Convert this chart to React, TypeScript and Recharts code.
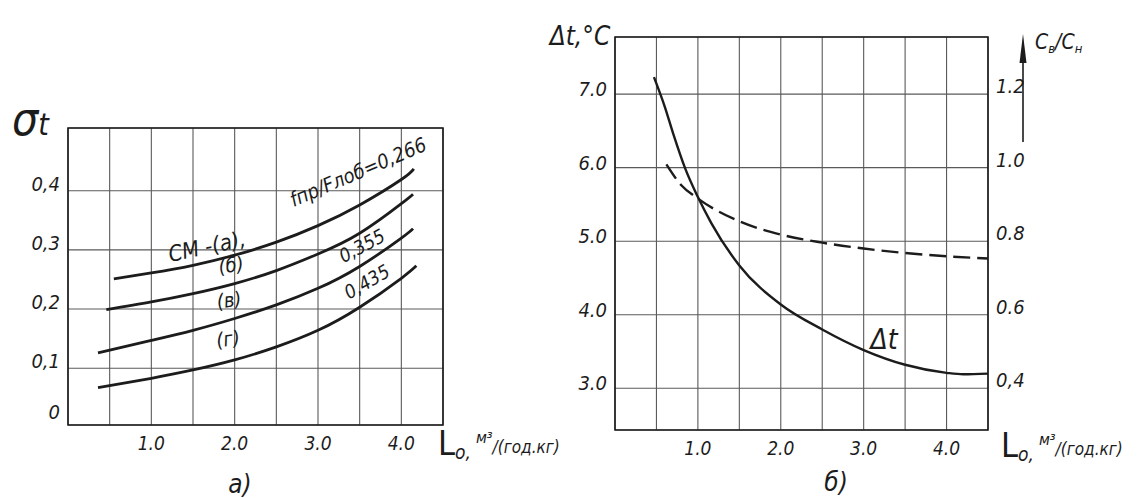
import React from "react";
import { LineChart, Line, XAxis, YAxis, CartesianGrid, ReferenceArea } from "recharts";

const FONT = "'Liberation Sans Narrow', 'DejaVu Sans Condensed', 'Liberation Sans', sans-serif";
const INK = "#1c1c1c";
const GRID = "#5a5a5a";

// ── а) σt от L0 при разных fпр/Fлоб ──
const LO_TICKS = [0, 0.5, 1, 1.5, 2, 2.5, 3, 3.5, 4, 4.5];
const SIGMA_TICKS = [0.004, 0.1, 0.2, 0.3, 0.4];
const SIGMA_DOMAIN = [0.004, 0.506];

const curveA = [
  { x: 0.55, y: 0.251 }, { x: 1.0, y: 0.261 }, { x: 1.5, y: 0.274 }, { x: 2.0, y: 0.291 },
  { x: 2.5, y: 0.313 }, { x: 3.0, y: 0.341 }, { x: 3.5, y: 0.376 }, { x: 4.0, y: 0.419 },
  { x: 4.15, y: 0.437 },
];
const curveB = [
  { x: 0.46, y: 0.199 }, { x: 1.0, y: 0.212 }, { x: 1.5, y: 0.226 }, { x: 2.0, y: 0.243 },
  { x: 2.5, y: 0.265 }, { x: 3.0, y: 0.293 }, { x: 3.5, y: 0.328 }, { x: 4.0, y: 0.378 },
  { x: 4.14, y: 0.394 },
];
const curveV = [
  { x: 0.36, y: 0.126 }, { x: 1.0, y: 0.147 }, { x: 1.5, y: 0.164 }, { x: 2.0, y: 0.184 },
  { x: 2.5, y: 0.207 }, { x: 3.0, y: 0.235 }, { x: 3.5, y: 0.272 }, { x: 4.0, y: 0.32 },
  { x: 4.14, y: 0.336 },
];
const curveG = [
  { x: 0.36, y: 0.067 }, { x: 1.0, y: 0.083 }, { x: 1.5, y: 0.097 }, { x: 2.0, y: 0.114 },
  { x: 2.5, y: 0.136 }, { x: 3.0, y: 0.164 }, { x: 3.5, y: 0.203 }, { x: 4.0, y: 0.252 },
  { x: 4.18, y: 0.273 },
];
const LEFT_CURVES = [curveA, curveB, curveV, curveG];

// ── б) Δt и Cв/Cн от L0 ──
const DT_TICKS = [3, 4, 5, 6, 7];
const DT_DOMAIN = [2.433, 7.776];
const RATIO_TICKS = [0.4, 0.6, 0.8, 1.0, 1.2];
const RATIO_DOMAIN = [0.2866, 1.3552];

const deltaT = [
  { x: 0.47, y: 7.23 }, { x: 0.6, y: 6.83 }, { x: 0.7, y: 6.47 }, { x: 0.85, y: 5.98 },
  { x: 1.0, y: 5.6 }, { x: 1.16, y: 5.25 }, { x: 1.5, y: 4.67 }, { x: 2.0, y: 4.14 },
  { x: 2.5, y: 3.8 }, { x: 3.0, y: 3.52 }, { x: 3.5, y: 3.32 }, { x: 4.0, y: 3.21 },
  { x: 4.2, y: 3.19 }, { x: 4.5, y: 3.2 },
];
const ratio = [
  { x: 0.62, y: 1.009 }, { x: 0.8, y: 0.952 }, { x: 1.0, y: 0.916 }, { x: 1.5, y: 0.854 },
  { x: 2.0, y: 0.818 }, { x: 2.5, y: 0.796 }, { x: 3.0, y: 0.78 }, { x: 3.5, y: 0.768 },
  { x: 4.0, y: 0.759 }, { x: 4.5, y: 0.753 },
];

const tickStyle = { fontFamily: FONT, fontStyle: "italic" as const, fontSize: 20, fill: INK };

function LoTick(p: any) {
  const v = p.payload.value;
  if (v === 0 || v % 1 !== 0) return <g />;
  return (
    <text x={p.x} y={p.y} dy={17} textAnchor="middle" {...tickStyle} fontSize={19}>
      {v.toFixed(1)}
    </text>
  );
}

function SigmaTick(p: any) {
  const v = p.payload.value;
  const label = v < 0.05 ? "0" : "0," + Math.round(v * 10);
  return (
    <text x={p.x} y={p.y} dy={v < 0.05 ? -6 : 0} textAnchor="end" {...tickStyle}>
      {label}
    </text>
  );
}

function DtTick(p: any) {
  return (
    <text x={p.x} y={p.y} dy={2} textAnchor="end" {...tickStyle}>
      {p.payload.value.toFixed(1)}
    </text>
  );
}

function RatioTick(p: any) {
  const v = p.payload.value;
  return (
    <text x={p.x} y={p.y} dy={-1} textAnchor="start" {...tickStyle}>
      {v === 0.4 ? "0,4" : v.toFixed(1)}
    </text>
  );
}

function Note({ x, y, rot = 0, size = 20, children }: any) {
  return (
    <div
      style={{
        position: "absolute",
        left: x,
        top: y,
        transform: `translate(-50%, -50%) rotate(${rot}deg)`,
        fontFamily: FONT,
        fontStyle: "italic",
        fontSize: size,
        lineHeight: 1,
        whiteSpace: "nowrap",
        color: INK,
      }}
    >
      {children}
    </div>
  );
}

function LoLabel({ x, y }: { x: number; y: number }) {
  return (
    <div style={{ position: "absolute", left: x, top: y, fontFamily: FONT, color: INK, whiteSpace: "nowrap", lineHeight: 1 }}>
      <span style={{ fontSize: 34 }}>L</span>
      <span style={{ fontSize: 19, fontStyle: "italic", position: "relative", top: 4 }}>о,</span>
      <span style={{ fontSize: 16, fontStyle: "italic", position: "relative", top: -12, marginLeft: 5 }}>м³</span>
      <span style={{ fontSize: 17, fontStyle: "italic", position: "relative", top: -2 }}>/(год.кг)</span>
    </div>
  );
}

export default function App() {
  return (
    <div style={{ position: "absolute", left: 0, top: 0, width: 1139, height: 498, background: "#fff", overflow: "hidden" }}>
      {/* а) */}
      <div style={{ position: "absolute", left: 0, top: 0 }}>
        <LineChart width={460} height={498} margin={{ top: 128, right: 17, bottom: 43, left: 8 }}>
          <CartesianGrid stroke={GRID} strokeWidth={1.1} />
          <XAxis type="number" dataKey="x" domain={[0, 4.5]} ticks={LO_TICKS} interval={0}
            height={30} axisLine={false} tickLine={false} tick={LoTick} />
          <YAxis type="number" domain={SIGMA_DOMAIN} ticks={SIGMA_TICKS} interval={0}
            width={60} axisLine={false} tickLine={false} tick={SigmaTick} />
          <ReferenceArea x1={0} x2={4.5} y1={SIGMA_DOMAIN[0]} y2={SIGMA_DOMAIN[1]}
            fill="none" stroke={INK} strokeWidth={1.6} />
          {LEFT_CURVES.map((c, i) => (
            <Line key={i} data={c} dataKey="y" type="natural" stroke={INK} strokeWidth={2.8}
              dot={false} isAnimationActive={false} />
          ))}
        </LineChart>
      </div>

      {/* б) */}
      <div style={{ position: "absolute", left: 540, top: 0 }}>
        <LineChart width={599} height={498} margin={{ top: 37, right: 101, bottom: 38, left: 15 }}>
          <CartesianGrid stroke={GRID} strokeWidth={1.1} yAxisId="l" />
          <XAxis type="number" dataKey="x" domain={[0, 4.5]} ticks={LO_TICKS} interval={0}
            height={30} axisLine={false} tickLine={false} tick={LoTick} />
          <YAxis yAxisId="l" type="number" domain={DT_DOMAIN} ticks={DT_TICKS} interval={0}
            width={60} axisLine={false} tickLine={false} tick={DtTick} />
          <YAxis yAxisId="r" orientation="right" type="number" domain={RATIO_DOMAIN} ticks={RATIO_TICKS}
            interval={0} width={50} axisLine={false} tickLine={false} tick={RatioTick} />
          <ReferenceArea yAxisId="l" x1={0} x2={4.5} y1={DT_DOMAIN[0]} y2={DT_DOMAIN[1]}
            fill="none" stroke={INK} strokeWidth={1.6} />
          <Line yAxisId="l" data={deltaT} dataKey="y" type="monotone" stroke={INK} strokeWidth={2.4}
            dot={false} isAnimationActive={false} />
          <Line yAxisId="r" data={ratio} dataKey="y" type="monotone" stroke={INK} strokeWidth={2.4}
            strokeDasharray="17 7" dot={false} isAnimationActive={false} />
        </LineChart>
      </div>

      {/* подписи а) */}
      <div style={{ position: "absolute", left: 12, top: 96, fontFamily: FONT, fontStyle: "italic", color: INK, lineHeight: 1 }}>
        <span style={{ fontSize: 46 }}>σ</span>
        <span style={{ fontSize: 30 }}>t</span>
      </div>
      <Note x={207} y={247} rot={-12} size={22}>СМ -(а),</Note>
      <Note x={231} y={265} rot={-8} size={20}>(б)</Note>
      <Note x={229} y={300} rot={-8} size={20}>(в)</Note>
      <Note x={228} y={339} rot={-8} size={20}>(г)</Note>
      <Note x={358} y={172} rot={-23} size={20}>fпр/Fлоб=0,266</Note>
      <Note x={362} y={246} rot={-28} size={19}>0,355</Note>
      <Note x={367} y={282} rot={-30} size={19}>0,435</Note>
      <LoLabel x={438} y={426} />
      <Note x={240} y={484} size={26}>а)</Note>

      {/* подписи б) */}
      <Note x={580} y={36} size={26}>Δt,°C</Note>
      <div style={{ position: "absolute", left: 1035, top: 32, fontFamily: FONT, fontStyle: "italic", color: INK, lineHeight: 1, whiteSpace: "nowrap" }}>
        <span style={{ fontSize: 21 }}>C</span>
        <span style={{ fontSize: 13, position: "relative", top: 4 }}>в</span>
        <span style={{ fontSize: 21 }}>/C</span>
        <span style={{ fontSize: 13, position: "relative", top: 4 }}>н</span>
      </div>
      <svg style={{ position: "absolute", left: 1016, top: 30 }} width={14} height={116}>
        <line x1={7} y1={20} x2={7} y2={112} stroke={INK} strokeWidth={1.6} />
        <polygon points="7,4 3.5,33 10.5,33" fill={INK} />
      </svg>
      <Note x={884} y={340} size={28}>Δt</Note>
      <LoLabel x={1001} y={428} />
      <Note x={836} y={482} size={26}>б)</Note>
    </div>
  );
}
